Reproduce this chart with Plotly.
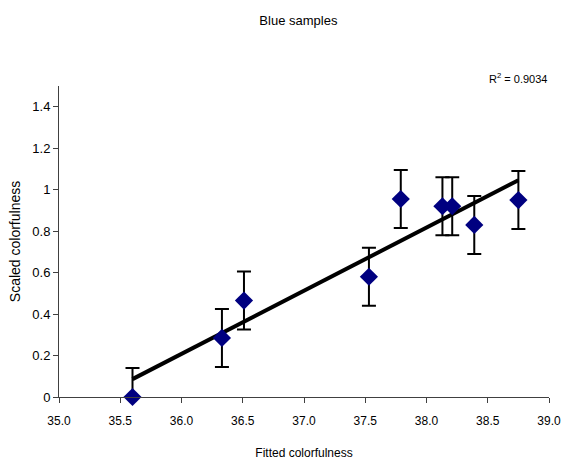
import numpy as np
import plotly.graph_objects as go

fitted = [35.60, 36.33, 36.51, 37.53, 37.79, 38.13, 38.21, 38.39, 38.75]
scaled = [0.00, 0.285, 0.465, 0.58, 0.955, 0.92, 0.92, 0.83, 0.95]
err = [0.14, 0.14, 0.14, 0.14, 0.14, 0.14, 0.14, 0.14, 0.14]
x_ticks = [35.0, 35.5, 36.0, 36.5, 37.0, 37.5, 38.0, 38.5, 39.0]
y_ticks = [0, 0.2, 0.4, 0.6, 0.8, 1.0, 1.2, 1.4]
r2_text = "R<sup>2</sup> = 0.9034"

slope, intercept = np.polyfit(fitted, scaled, 1)
tx = [min(fitted), max(fitted)]
ty = [slope * v + intercept for v in tx]

font = "Liberation Sans, Arial, sans-serif"
fig = go.Figure()
fig.add_trace(go.Scatter(x=tx, y=ty, mode="lines", line=dict(color="black", width=4),
                         hoverinfo="skip", showlegend=False))
fig.add_trace(go.Scatter(
    x=fitted, y=scaled, mode="markers",
    marker=dict(symbol="diamond", size=14, color="#000080"),
    error_y=dict(type="data", array=err, color="black", thickness=2, width=7),
    showlegend=False, cliponaxis=False))

axis_common = dict(showgrid=False, zeroline=False, showline=True, linecolor="#404040",
                   linewidth=1, ticks="outside", ticklen=5, tickcolor="#404040",
                   automargin=False,
                   tickfont=dict(family=font, size=12, color="black"))
fig.update_xaxes(range=[35.0, 39.0], tickvals=x_ticks,
                 ticktext=[f"{v:.1f}" for v in x_ticks], ticklabelstandoff=8,
                 title=dict(text="Fitted colorfulness", font=dict(family=font, size=12, color="black"), standoff=21),
                 **axis_common)
fig.update_yaxes(range=[0, 1.5], tickvals=y_ticks,
                 ticktext=[f"{v:g}" for v in y_ticks],
                 tickfont=dict(family=font, size=13, color="black"),
                 title=dict(text="Scaled colorfulness", font=dict(family=font, size=14, color="black"), standoff=8),
                 **{k: v for k, v in axis_common.items() if k != "tickfont"})
fig.update_layout(
    width=563, height=465, plot_bgcolor="white", paper_bgcolor="white",
    margin=dict(l=59, r=14, t=86, b=68),
    title=dict(text="Blue samples", x=0.53, xanchor="center", y=0.957, yanchor="middle",
               font=dict(family=font, size=13, color="black")),
    annotations=[dict(text=r2_text, xref="paper", yref="paper", x=1.0, y=0.998,
                      xanchor="right", yanchor="bottom", showarrow=False,
                      font=dict(family=font, size=11, color="black"))],
)
fig.write_html("out.html")
